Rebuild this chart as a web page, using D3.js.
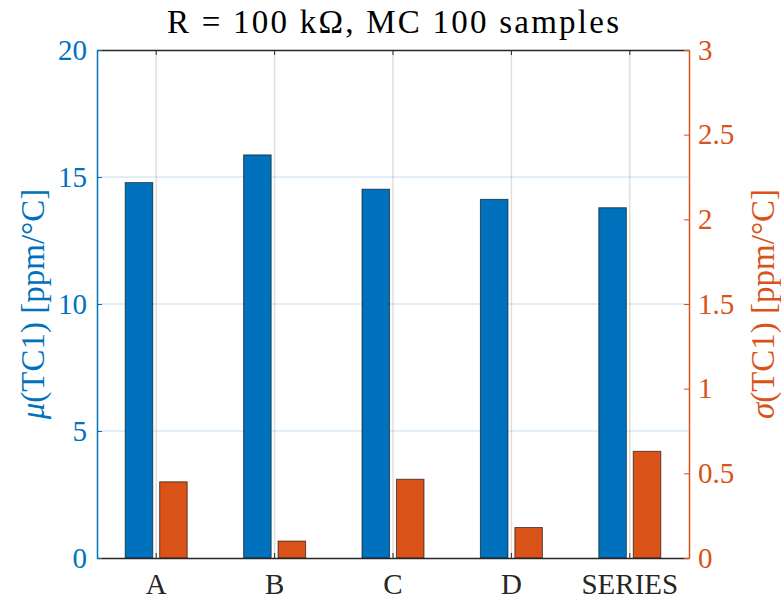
<!DOCTYPE html>
<meta charset="utf-8">
<script src="https://d3js.org/d3.v7.min.js"></script>
<style>
  body { margin: 0; background: #fff; }
</style>
<body>
<div id="chart"></div>

<script>
// values
const categories = ["A", "B", "C", "D", "SERIES"];
const muValues = [14.78, 15.87, 14.52, 14.12, 13.79];     // left axis, ppm/°C
const sigmaValues = [0.45, 0.10, 0.465, 0.18, 0.63];      // right axis, ppm/°C
const leftTicks = [0, 5, 10, 15, 20];
const rightTicks = [0, 0.5, 1, 1.5, 2, 2.5, 3];

const blue = "#0072BD", orange = "#D95319", dark = "#262626";
const serif = "'Liberation Serif', 'Times New Roman', serif";

const W = 781, H = 601;
const margin = {top: 50, right: 92, bottom: 43, left: 97},
    width = W - margin.left - margin.right,
    height = H - margin.top - margin.bottom;

const svg = d3.select("#chart").append("svg")
    .attr("width", W).attr("height", H);

const g = svg.append("g")
    .attr("transform", `translate(${margin.left},${margin.top})`);

// scales
const x = d3.scaleBand().domain(categories).range([0, width]).padding(0);
const inner = d3.scaleBand().domain(["mu", "sigma"]).range([-31, 31]).paddingInner(0.2);
const yL = d3.scaleLinear().domain([0, 20]).range([height, 0]);
const yR = d3.scaleLinear().domain([0, 3]).range([height, 0]);
const cx = d => x(d) + x.bandwidth() / 2;

// grid
g.append("g").selectAll("line").data(categories).join("line")
    .attr("x1", cx).attr("x2", cx).attr("y1", 0).attr("y2", height)
    .attr("stroke", dark).attr("stroke-opacity", 0.15).attr("stroke-width", 1.5);
g.append("g").selectAll("line").data(leftTicks.slice(1, -1)).join("line")
    .attr("x1", 0).attr("x2", width).attr("y1", d => yL(d)).attr("y2", d => yL(d))
    .attr("stroke", blue).attr("stroke-opacity", 0.15).attr("stroke-width", 1.5);

// bars
g.append("g").selectAll("rect").data(muValues).join("rect")
    .attr("x", (d, i) => cx(categories[i]) + inner("mu"))
    .attr("width", inner.bandwidth())
    .attr("y", d => yL(d))
    .attr("height", d => height - yL(d))
    .attr("fill", blue).attr("stroke", "#000").attr("stroke-opacity", 0.6).attr("stroke-width", 1);

g.append("g").selectAll("rect").data(sigmaValues).join("rect")
    .attr("x", (d, i) => cx(categories[i]) + inner("sigma"))
    .attr("width", inner.bandwidth())
    .attr("y", d => yR(d))
    .attr("height", d => height - yR(d))
    .attr("fill", orange).attr("stroke", "#000").attr("stroke-opacity", 0.6).attr("stroke-width", 1);

// axes
const bottomAxis = g.append("g").attr("transform", `translate(0,${height})`)
  .call(d3.axisBottom(x).tickSizeInner(-5).tickSizeOuter(0).tickPadding(15));
bottomAxis.attr("color", dark).attr("font-size", 29).attr("font-family", serif);
bottomAxis.select(".domain").attr("stroke-width", 1.5);

const topAxis = g.append("g")
  .call(d3.axisTop(x).tickSizeInner(-5).tickSizeOuter(0).tickFormat(""));
topAxis.attr("color", dark);
topAxis.select(".domain").attr("stroke-width", 1.5);

const leftAxis = g.append("g").call(d3.axisLeft(yL).tickValues(leftTicks)
    .tickSizeInner(-5).tickSizeOuter(0).tickPadding(10).tickFormat(d3.format("~g")));
leftAxis.attr("color", blue).attr("font-size", 29).attr("font-family", serif);
leftAxis.select(".domain").attr("stroke-width", 1.5);

const rightAxis = g.append("g").attr("transform", `translate(${width},0)`)
  .call(d3.axisRight(yR).tickValues(rightTicks)
    .tickSizeInner(-5).tickSizeOuter(0).tickPadding(9).tickFormat(d3.format("~g")));
rightAxis.attr("color", orange).attr("font-size", 29).attr("font-family", serif);
rightAxis.select(".domain").attr("stroke-width", 1.5);

// title
svg.append("text")
    .attr("x", margin.left + width / 2).attr("y", 33)
    .attr("text-anchor", "middle").attr("fill", "#000")
    .attr("font-family", serif).attr("font-size", 33)
    .attr("textLength", 452).attr("lengthAdjust", "spacing")
    .text("R = 100 kΩ, MC 100 samples");

// axis labels
function axisLabel(xPos, sym, color) {
  const t = svg.append("text")
      .attr("transform", `translate(${xPos},${margin.top + height / 2}) rotate(-90)`)
      .attr("text-anchor", "middle").attr("dy", "0.35em")
      .attr("fill", color).attr("font-family", serif).attr("font-size", 33);
  t.append("tspan").attr("font-style", "italic").text(sym);
  t.append("tspan").text("(TC1) [ppm/°C]");
}
axisLabel(32, "μ", blue);
axisLabel(762, "σ", orange);
</script>
</body>
